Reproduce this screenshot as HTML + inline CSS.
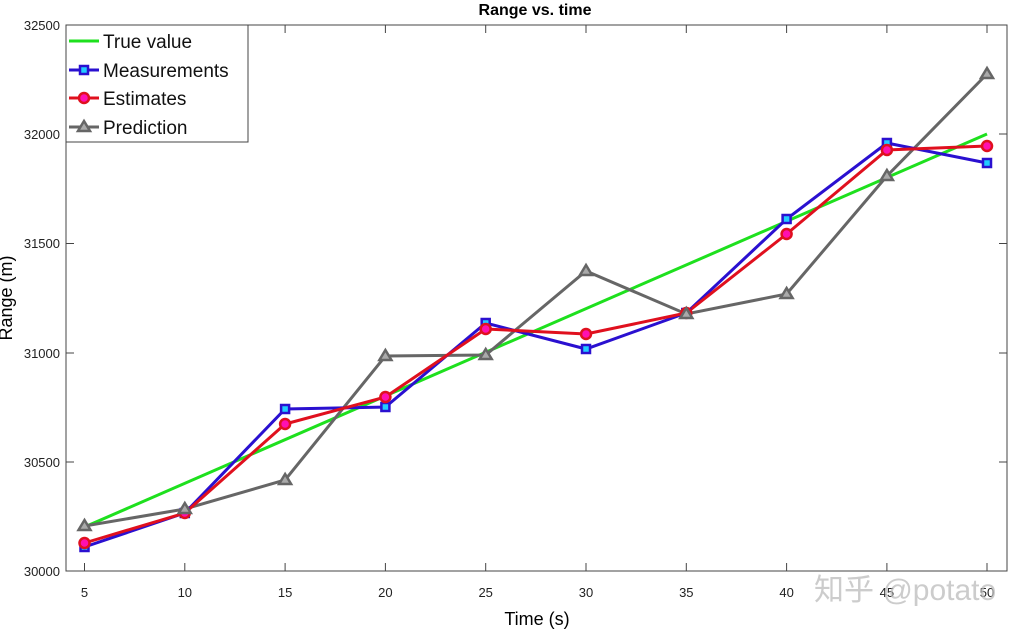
<!DOCTYPE html>
<html><head><meta charset="utf-8"><style>
body{margin:0;background:#fff;}
svg text{font-family:"Liberation Sans","Noto Sans CJK SC",sans-serif;}
</style></head><body>
<svg width="1035" height="636" xmlns="http://www.w3.org/2000/svg">
<rect width="1035" height="636" fill="#fff"/>
<text x="535" y="15" font-size="16" font-weight="bold" text-anchor="middle">Range vs. time</text>
<g stroke="#444" stroke-width="1" fill="none">
<rect x="66" y="25" width="941" height="546"/>
<path d="M84.5 571v-8M184.8 571v-8M285.1 571v-8M385.4 571v-8M485.7 571v-8M586 571v-8M686.3 571v-8M786.6 571v-8M886.9 571v-8M987 571v-8
M84.5 25v8M184.8 25v8M285.1 25v8M385.4 25v8M485.7 25v8M586 25v8M686.3 25v8M786.6 25v8M886.9 25v8M987 25v8
M66 462h8M66 353h8M66 243.5h8M66 134h8M1007 462h-8M1007 353h-8M1007 243.5h-8M1007 134h-8"/>
</g>
<g font-size="13" fill="#222" text-anchor="end">
<text x="60" y="576">30000</text><text x="60" y="467">30500</text><text x="60" y="358">31000</text>
<text x="60" y="248">31500</text><text x="60" y="139">32000</text><text x="60" y="30">32500</text>
</g>
<g font-size="13" fill="#222" text-anchor="middle">
<text x="84.5" y="597">5</text><text x="184.8" y="597">10</text><text x="285.1" y="597">15</text><text x="385.4" y="597">20</text><text x="485.7" y="597">25</text><text x="586" y="597">30</text><text x="686.3" y="597">35</text><text x="786.6" y="597">40</text><text x="886.9" y="597">45</text><text x="987" y="597">50</text>
</g>
<text x="537" y="625" font-size="18" text-anchor="middle">Time (s)</text>
<text transform="translate(12,298) rotate(-90)" font-size="18" text-anchor="middle">Range (m)</text>
<polyline points="84.5,527 987,134" stroke="#1ee01e" stroke-width="3" fill="none"/>
<polyline points="84.5,526 184.8,509 285.1,480 385.4,356 485.7,355 586,271 686.3,314 786.6,294 886.9,176 987,74" stroke="#666" stroke-width="3" fill="none"/>
<polyline points="84.5,547 184.8,513 285.1,409 385.4,407 485.7,323 586,349 686.3,313 786.6,219 886.9,143 987,163" stroke="#2a10d0" stroke-width="3" fill="none"/>
<polyline points="84.5,543 184.8,513 285.1,424 385.4,397 485.7,329 586,334 686.3,313 786.6,234 886.9,150 987,146" stroke="#e0101e" stroke-width="3" fill="none"/>
<g fill="#22ccff" stroke="#2a10d0" stroke-width="2.5">
<rect x="80.5" y="543" width="8" height="8"/><rect x="180.8" y="509" width="8" height="8"/><rect x="281.1" y="405" width="8" height="8"/><rect x="381.4" y="403" width="8" height="8"/><rect x="481.7" y="319" width="8" height="8"/><rect x="582" y="345" width="8" height="8"/><rect x="682.3" y="309" width="8" height="8"/><rect x="782.6" y="215" width="8" height="8"/><rect x="882.9" y="139" width="8" height="8"/><rect x="983" y="159" width="8" height="8"/>
</g>
<g fill="#ff10b0" stroke="#e0101e" stroke-width="2.5">
<circle cx="84.5" cy="543" r="5"/><circle cx="184.8" cy="513" r="5"/><circle cx="285.1" cy="424" r="5"/><circle cx="385.4" cy="397" r="5"/><circle cx="485.7" cy="329" r="5"/><circle cx="586" cy="334" r="5"/><circle cx="686.3" cy="313" r="5"/><circle cx="786.6" cy="234" r="5"/><circle cx="886.9" cy="150" r="5"/><circle cx="987" cy="146" r="5"/>
</g>
<g fill="#aaa" stroke="#666" stroke-width="2.5">
<path d="M84.5 520l6 10h-12z"/><path d="M184.8 503l6 10h-12z"/><path d="M285.1 474l6 10h-12z"/><path d="M385.4 350l6 10h-12z"/><path d="M485.7 349l6 10h-12z"/><path d="M586 265l6 10h-12z"/><path d="M686.3 308l6 10h-12z"/><path d="M786.6 288l6 10h-12z"/><path d="M886.9 170l6 10h-12z"/><path d="M987 68l6 10h-12z"/>
</g>
<rect x="66" y="25" width="182" height="117" fill="#fff" stroke="#444" stroke-width="1"/>
<line x1="69" y1="41" x2="99" y2="41" stroke="#1ee01e" stroke-width="3"/>
<line x1="69" y1="70" x2="99" y2="70" stroke="#2a10d0" stroke-width="3"/>
<rect x="80" y="66" width="8" height="8" fill="#22ccff" stroke="#2a10d0" stroke-width="2.5"/>
<line x1="69" y1="98" x2="99" y2="98" stroke="#e0101e" stroke-width="3"/>
<circle cx="84" cy="98" r="5" fill="#ff10b0" stroke="#e0101e" stroke-width="2.5"/>
<line x1="69" y1="127" x2="99" y2="127" stroke="#666" stroke-width="3"/>
<path d="M84 121l6 10h-12z" fill="#aaa" stroke="#666" stroke-width="2.5"/>
<g font-size="19" fill="#111">
<text x="103" y="48">True value</text><text x="103" y="77">Measurements</text><text x="103" y="105">Estimates</text><text x="103" y="134">Prediction</text>
</g>
<text x="814" y="600" font-size="30" fill="#bbb" fill-opacity="0.75">知乎 @potato</text>
</svg>
</body></html>
